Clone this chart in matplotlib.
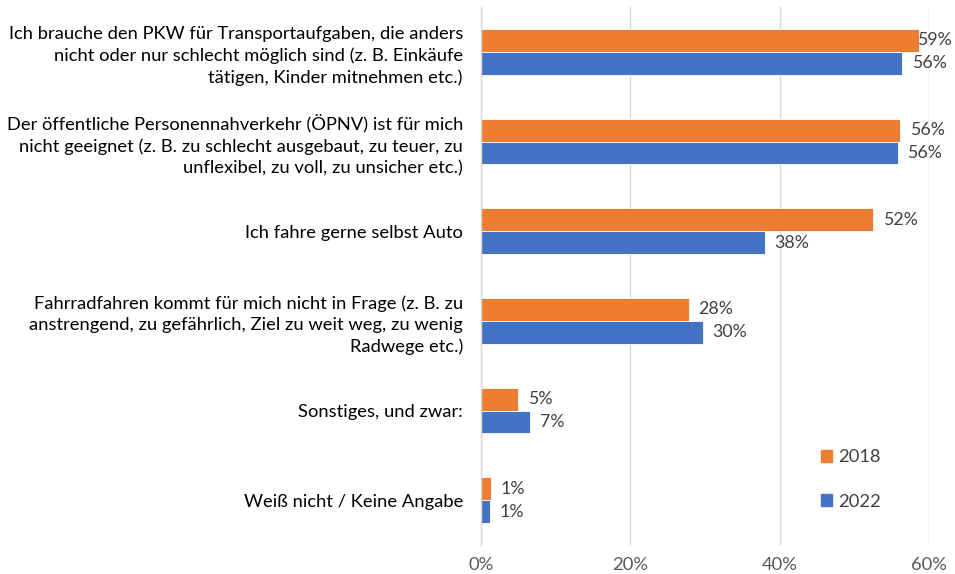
import numpy as np
import matplotlib as mpl
mpl.use('Agg')
import matplotlib.pyplot as plt
from matplotlib.patches import Patch

plt.rcParams['font.family'] = ['Lato', 'DejaVu Sans']

categories = [
    'Ich brauche den PKW für Transportaufgaben, die anders\nnicht oder nur schlecht möglich sind (z. B. Einkäufe\ntätigen, Kinder mitnehmen etc.)',
    'Der öffentliche Personennahverkehr (ÖPNV) ist für mich\nnicht geeignet (z. B. zu schlecht ausgebaut, zu teuer, zu\nunflexibel, zu voll, zu unsicher etc.)',
    'Ich fahre gerne selbst Auto',
    'Fahrradfahren kommt für mich nicht in Frage (z. B. zu\nanstrengend, zu gefährlich, Ziel zu weit weg, zu wenig\nRadwege etc.)',
    'Sonstiges, und zwar:',
    'Weiß nicht / Keine Angabe',
]
vals_2018 = [58.7, 56.1, 52.5, 27.8, 5.0, 1.3]
vals_2022 = [56.4, 55.8, 38.0, 29.7, 6.6, 1.2]
labels_2018 = ['59%', '56%', '52%', '28%', '5%', '1%']
labels_2022 = ['56%', '56%', '38%', '30%', '7%', '1%']
xticks = [0, 20, 40, 60]

c18 = '#ED7D31'
c22 = '#4472C4'
txt = '#404040'
fs = 13.2

fig = plt.figure(figsize=(9.55, 5.74), dpi=100)
ax = fig.add_axes([481/955, 29/574, 448/955, 538/574])

y = np.arange(len(categories))
h = 0.255
ax.barh(y - h/2, vals_2018, height=h, color=c18, edgecolor='white', linewidth=0.6)
ax.barh(y + h/2, vals_2022, height=h, color=c22, edgecolor='white', linewidth=0.6)

ax.set_xlim(0, 60)
ax.set_ylim(len(categories) - 0.5, -0.5)

# data labels outside bar end, pushed back inside the figure if they would be cut
renderer = fig.canvas.get_renderer()
for vals, labels, off in [(vals_2018, labels_2018, -h/2), (vals_2022, labels_2022, h/2)]:
    for yi, v, l in zip(y, vals, labels):
        t = ax.annotate(l, (v, yi + off), xytext=(7, 0), textcoords='offset points',
                        va='center', ha='left', fontsize=12.8, color=txt,
                        annotation_clip=False)
        bb = t.get_window_extent(renderer)
        over = bb.x1 - (fig.bbox.width - 3)
        if over > 0:
            t.set_position((7 - over * 72 / fig.dpi, 0))

ax.set_xticks(xticks)
ax.set_xticklabels([f'{t}%' for t in xticks], fontsize=fs, color='#595959')
ax.set_yticks(y)
ax.set_yticklabels(categories, fontsize=fs, color='black', linespacing=1.38)
ax.tick_params(axis='both', length=0)
ax.tick_params(axis='y', pad=13)
ax.tick_params(axis='x', pad=9)
ax.grid(axis='x', color='#D9D9D9', linewidth=1)
ax.set_axisbelow(True)
for s in ['top', 'right', 'bottom']:
    ax.spines[s].set_visible(False)
ax.spines['left'].set_color('#D9D9D9')
ax.spines['left'].set_linewidth(1)

handles = [Patch(color=c18, label='2018'), Patch(color=c22, label='2022')]
ax.legend(handles=handles, loc='lower left', bbox_to_anchor=(0.722, 0.035),
          frameon=False, fontsize=fs, labelspacing=1.55, handlelength=0.6,
          handleheight=0.6, handletextpad=0.35, labelcolor=txt)

fig.savefig('out.png', dpi=100)
